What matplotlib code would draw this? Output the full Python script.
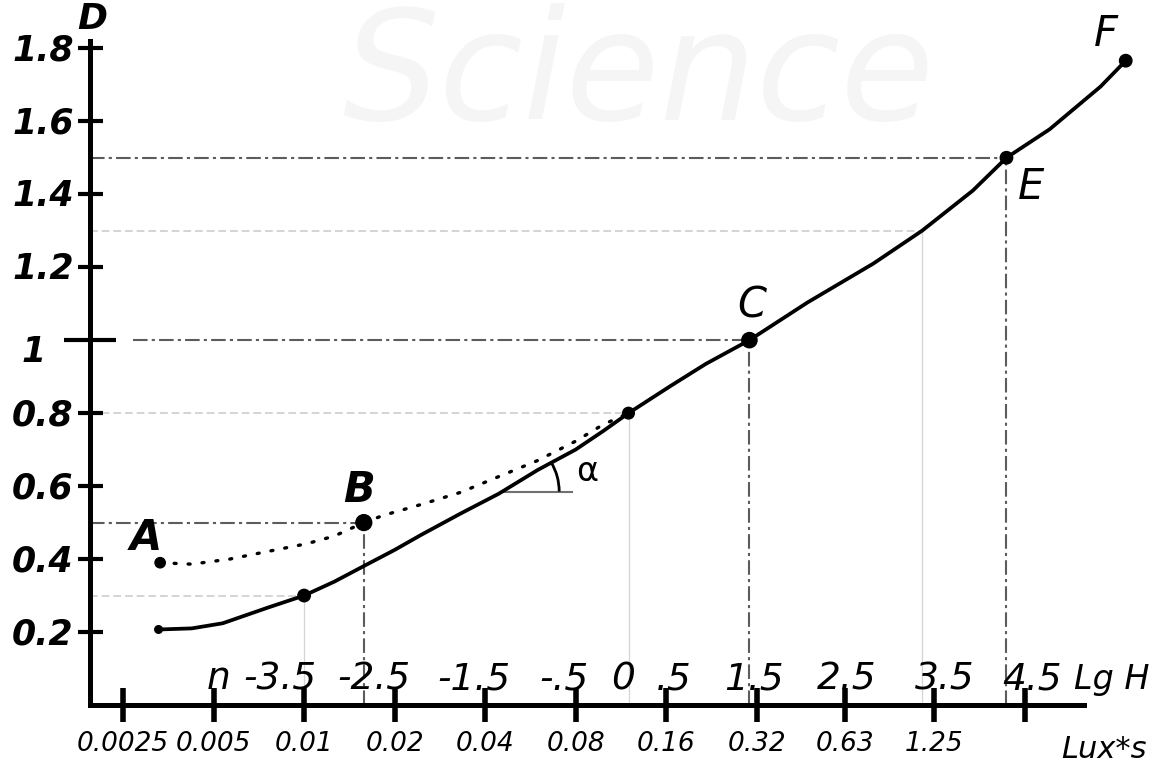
import matplotlib.pyplot as plt
from matplotlib.patches import Arc
from matplotlib.transforms import ScaledTranslation

# characteristic curve: exposure H (lux*s) vs optical density D
solid_h = [0.00328, 0.00423, 0.00536, 0.00758, 0.0100, 0.0126, 0.0159, 0.0200,
           0.0246, 0.0332, 0.0444, 0.0598, 0.0800, 0.0985, 0.120, 0.166, 0.217,
           0.303, 0.472, 0.783, 1.137, 1.677, 2.17, 3.02, 4.46, 5.41]
solid_d = [0.207, 0.210, 0.224, 0.267, 0.300, 0.338, 0.382, 0.425,
           0.467, 0.525, 0.579, 0.644, 0.700, 0.750, 0.800, 0.875, 0.935,
           1.000, 1.103, 1.210, 1.300, 1.410, 1.500, 1.578, 1.695, 1.766]

# dotted branch A -> B -> joins the main curve
dotted_h = [0.00332, 0.00423, 0.00566, 0.00758, 0.0102, 0.0126, 0.0158, 0.0184,
            0.0246, 0.0332, 0.0444, 0.0598, 0.0800, 0.0985, 0.120]
dotted_d = [0.390, 0.386, 0.400, 0.421, 0.442, 0.463, 0.500, 0.520,
            0.550, 0.583, 0.626, 0.670, 0.723, 0.768, 0.800]

# marked points
point_names = ['A', 'B', 'C', 'E', 'F']
point_h = [0.00332, 0.0158, 0.303, 2.17, 5.41]
point_d = [0.390, 0.500, 1.000, 1.500, 1.766]
dot_h = [0.00328, 0.0100, 0.120]
dot_d = [0.207, 0.300, 0.800]

# guide lines (dash-dot to B, C, E; light ones to the helper dots)
guide_h = [0.0158, 0.303, 2.17]
guide_d = [0.500, 1.000, 1.500]
light_h = [0.0100, 0.120, 1.137]
light_d = [0.300, 0.800, 1.300]

# axes labels
d_ticks = [0.2, 0.4, 0.6, 0.8, 1.2, 1.4, 1.6, 1.8]
d_labels = ['0.2', '0.4', '0.6', '0.8', '1.2', '1.4', '1.6', '1.8']
lux_ticks = [0.0025, 0.005, 0.01, 0.02, 0.04, 0.08, 0.16, 0.32, 0.63, 1.25, 2.5]
lux_labels = ['0.0025', '0.005', '0.01', '0.02', '0.04', '0.08', '0.16', '0.32',
              '0.63', '1.25', '']
lg_labels = ['n', '-3.5', '-2.5', '-1.5', '-.5', '0', '.5', '1.5', '2.5', '3.5', '4.5']
lg_pos = [0.00518, 0.0083, 0.01705, 0.0368, 0.0731, 0.1155, 0.169, 0.3135,
          0.636, 1.353, 2.65]

# slope angle marker
alpha_h = [0.0456, 0.078]
alpha_d = 0.585

fig = plt.figure(figsize=(11.5, 7.74), dpi=100)
ax = fig.add_axes([90 / 1150, 69 / 774, 994 / 1150, 664 / 774])
ax.set_xscale('log', base=2)
ax.set_xlim(0.00194, 3.93)
ax.set_ylim(0, 1.82)
for s in ['top', 'right']:
    ax.spines[s].set_visible(False)
for s in ['left', 'bottom']:
    ax.spines[s].set_linewidth(3.6)
ax.minorticks_off()

# faint watermark
fig.text(0.555, 0.9, 'Science', fontsize=110, color='#f5f5f5', style='italic',
         zorder=0, ha='center', va='center')

# guides
dashdot = (0, (7, 2, 1.5, 2))
x0 = ax.get_xlim()[0]
for h, d in zip(guide_h, guide_d):
    start = 0.0027 if d == 1.0 else x0
    ax.plot([start, h], [d, d], color='#5c5c5c', lw=1.5, ls=dashdot, zorder=2)
    ax.plot([h, h], [0, d], color='#5c5c5c', lw=1.5, ls=dashdot, zorder=2)
for h, d in zip(light_h, light_d):
    ax.plot([x0, h], [d, d], color='#d4d4d4', lw=1.4, ls=(0, (4, 2)), zorder=1)
    ax.plot([h, h], [0, d], color='#d4d4d4', lw=0.9, zorder=1)

# curves
ax.plot(solid_h, solid_d, color='black', lw=2.7, zorder=4, solid_capstyle='round',
        solid_joinstyle='round', clip_on=False)
ax.plot(dotted_h, dotted_d, color='black', lw=2.4, ls=(0, (0.6, 3.6)),
        dash_capstyle='round', zorder=3)

# points
ax.scatter(point_h, point_d, s=[55, 130, 120, 80, 80], color='black', zorder=5,
           clip_on=False)
ax.scatter(dot_h, dot_d, s=[30, 80, 70], color='black', zorder=5)

# letters
let = dict(fontsize=30, style='italic', family='DejaVu Sans', zorder=6,
           textcoords='offset pixels', ha='center')
ax.annotate('A', (point_h[0], point_d[0]), xytext=(-14, 4), va='bottom',
            fontweight='bold', **let)
ax.annotate('B', (point_h[1], point_d[1]), xytext=(-5, 12), va='bottom',
            fontweight='bold', **let)
ax.annotate('C', (point_h[2], point_d[2]), xytext=(2, 14), va='bottom', **let)
ax.annotate('E', (point_h[3], point_d[3]), xytext=(25, -8), va='top', **let)
ax.annotate('F', (point_h[4], point_d[4]), xytext=(-20, 6), va='bottom',
            annotation_clip=False, **let)

# alpha angle
ax.plot(alpha_h, [alpha_d, alpha_d], color='#707070', lw=1.5, zorder=3)
arc_tr = fig.dpi_scale_trans + ScaledTranslation(alpha_h[0], alpha_d, ax.transData)
ax.add_patch(Arc((0, 0), 1.14, 1.14, theta1=0, theta2=31, transform=arc_tr,
                 color='black', lw=2.0, zorder=4))
ax.annotate('α', (alpha_h[1], alpha_d), xytext=(4, 20), textcoords='offset pixels',
            ha='left', va='center', fontsize=24, family='DejaVu Sans')

# y axis ticks and labels
ax.set_yticks(d_ticks)
ax.set_yticks([1.0], minor=True)
ax.tick_params(axis='y', which='major', direction='inout', length=18, width=3,
               labelleft=False)
ax.tick_params(axis='y', which='minor', direction='inout', length=38, width=3,
               labelleft=False)
ylab = dict(fontsize=25, style='italic', fontweight='bold', family='DejaVu Sans',
            xycoords=('axes fraction', 'data'), textcoords='offset pixels',
            va='center', annotation_clip=False)
for d, lbl in zip(d_ticks, d_labels):
    ax.annotate(lbl, (0, d), xytext=(-78, -2), ha='left', **ylab)
ax.annotate('1', (0, 1.0), xytext=(-56, -12), ha='center', **ylab)
ax.annotate('D', (0, 1), xycoords='axes fraction', xytext=(2, 22),
            textcoords='offset pixels', ha='center', va='center', fontsize=26,
            style='italic', fontweight='bold', annotation_clip=False)

# x axis ticks and labels
ax.set_xticks(lux_ticks)
ax.set_xticklabels(lux_labels, fontsize=19, style='italic')
ax.tick_params(axis='x', which='major', direction='inout', length=25, width=4, pad=6)
for h, lbl in zip(lg_pos, lg_labels):
    ax.annotate(lbl, (h, 0), xytext=(0, 16), textcoords='offset pixels',
                ha='center', va='baseline', fontsize=27, style='italic')
ax.annotate('Lg H', (1, 0), xycoords='axes fraction', xytext=(28, 16),
            textcoords='offset pixels', ha='center', va='baseline', fontsize=24,
            style='italic', annotation_clip=False)
ax.annotate('Lux*s', (1, 0), xycoords='axes fraction', xytext=(20, -44),
            textcoords='offset pixels', ha='center', va='center', fontsize=22,
            style='italic', annotation_clip=False)

fig.savefig('out.png', dpi=100)
